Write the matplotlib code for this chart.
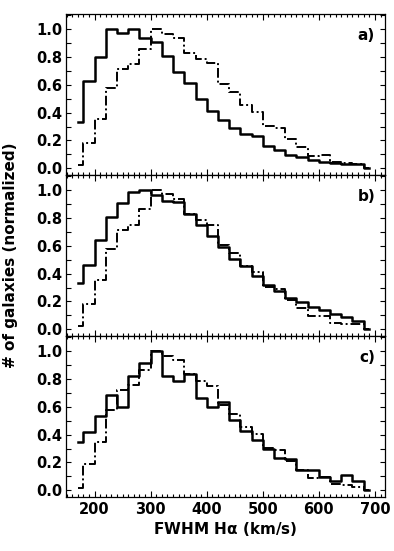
import numpy as np
import matplotlib
matplotlib.use("Agg")
import matplotlib.pyplot as plt
from matplotlib.ticker import MultipleLocator

# bin centres (km/s), IDL psym=10 style histograms
fwhm = np.arange(170, 700, 20)

# panel a
a_solid = [0.333, 0.628, 0.80, 1.0, 0.971, 1.0, 0.94, 0.909, 0.808, 0.695, 0.612, 0.496, 0.412, 0.348,
           0.293, 0.245, 0.233, 0.161, 0.132, 0.096, 0.082, 0.06, 0.048, 0.041, 0.034, 0.029, 0.0]
a_dash = [0.024, 0.185, 0.353, 0.576, 0.712, 0.748, 0.861, 1.0, 0.969, 0.935, 0.832, 0.784, 0.755, 0.604,
          0.552, 0.456, 0.405, 0.305, 0.293, 0.209, 0.156, 0.089, 0.096, 0.046, 0.041, 0.034, 0.005]

# panel b
b_solid = [0.333, 0.465, 0.64, 0.808, 0.909, 0.988, 1.0, 0.964, 0.923, 0.916, 0.827, 0.748, 0.671, 0.592,
           0.504, 0.456, 0.381, 0.321, 0.276, 0.225, 0.197, 0.161, 0.137, 0.113, 0.089, 0.06, 0.005]
b_dash = [0.024, 0.185, 0.353, 0.576, 0.717, 0.753, 0.863, 1.0, 0.976, 0.935, 0.832, 0.784, 0.753, 0.604,
          0.552, 0.456, 0.412, 0.305, 0.288, 0.213, 0.156, 0.096, 0.096, 0.046, 0.036, 0.036, 0.005]

# panel c
c_solid = [0.349, 0.417, 0.537, 0.682, 0.602, 0.824, 0.916, 1.0, 0.824, 0.783, 0.836, 0.667, 0.598, 0.634,
           0.506, 0.427, 0.361, 0.296, 0.229, 0.224, 0.145, 0.145, 0.092, 0.067, 0.108, 0.067, 0.0]
c_dash = [0.019, 0.186, 0.349, 0.578, 0.718, 0.754, 0.867, 1.0, 0.969, 0.935, 0.836, 0.788, 0.747, 0.614,
          0.549, 0.453, 0.402, 0.301, 0.289, 0.212, 0.149, 0.087, 0.092, 0.048, 0.036, 0.024, 0.0]

panels = [(a_solid, a_dash, "a)"), (b_solid, b_dash, "b)"), (c_solid, c_dash, "c)")]

plt.rcParams.update({'font.size': 10.5, 'font.family': 'DejaVu Sans', 'font.weight': 'bold',
                     'axes.labelweight': 'bold', 'mathtext.default': 'bf'})
fig = plt.figure(figsize=(3.94, 5.51), dpi=100)

W, H = 394.0, 551.0
left, right = 66, 385
tops = [14, 175, 336]
hgt = 160.5

for i, (s, d, lab) in enumerate(panels):
    ax = fig.add_axes([left / W, 1 - (tops[i] + hgt) / H, (right - left) / W, hgt / H])
    ax.step(fwhm, d, where='mid', color='k', lw=1.4, linestyle=(0, (5, 1.5, 1, 1.5)))
    ax.step(fwhm, s, where='mid', color='k', lw=1.8)
    ax.set_xlim(149, 718)
    ax.set_ylim(-0.045, 1.11)
    ax.xaxis.set_major_locator(MultipleLocator(100))
    ax.xaxis.set_minor_locator(MultipleLocator(10))
    ax.yaxis.set_major_locator(MultipleLocator(0.2))
    ax.yaxis.set_minor_locator(MultipleLocator(0.1))
    ax.yaxis.set_major_formatter(matplotlib.ticker.FormatStrFormatter('%.1f'))
    ax.tick_params(which='both', direction='in', top=True, right=True, width=0.8)
    ax.tick_params(axis='x', which='major', length=4, pad=4)
    ax.tick_params(axis='x', which='minor', length=2)
    ax.tick_params(axis='y', which='both', length=3.5, pad=2.5)
    for sp in ax.spines.values():
        sp.set_linewidth(0.9)
    ax.text(0.969, 0.866, lab, transform=ax.transAxes, ha='right', va='center', fontsize=11)
    if i < 2:
        ax.tick_params(labelbottom=False)
    else:
        ax.set_xlabel(r"FWHM H$\alpha$ (km/s)", labelpad=2, fontsize=11, fontweight='bold')

fig.text(11 / W, 1 - 255 / H, "# of galaxies (normalized)", rotation=90, ha='center', va='center',
         fontsize=11, fontweight='bold')

fig.savefig("out.png", dpi=100)
